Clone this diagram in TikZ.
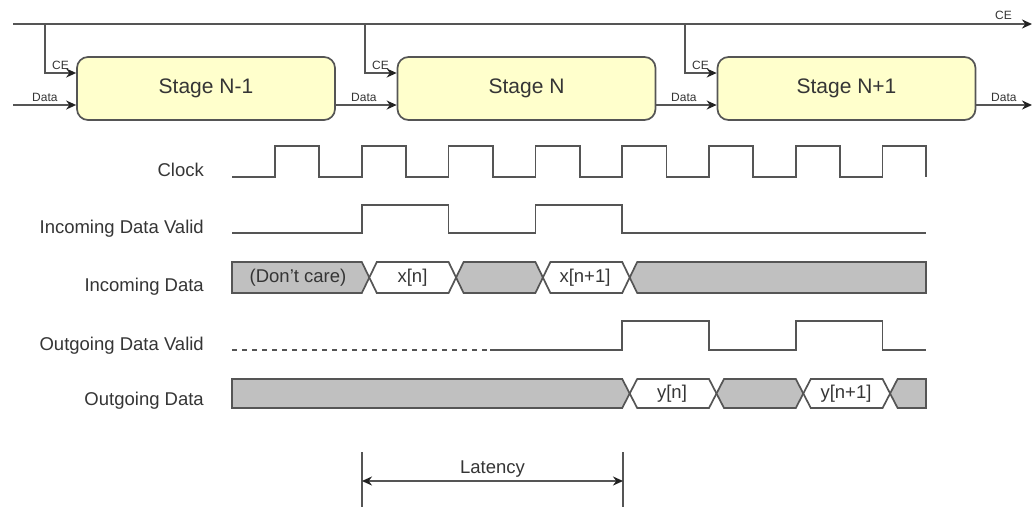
\documentclass[tikz,border=0pt]{standalone}
\usepackage{fontspec}
\setmainfont{Liberation Sans}
\usetikzlibrary{arrows.meta}
\definecolor{ln}{HTML}{555555}
\definecolor{tx}{HTML}{353535}
\definecolor{tip}{HTML}{222222}
\definecolor{boxfill}{HTML}{FFFFCC}
\definecolor{busgray}{HTML}{C0C0C0}
\newcommand\bseg[5]{% style, t1, t2, top, bottom
  \path[#1] ({#2+7.5},{(#4+#5)/2}) -- ({#2+15},#4) -- (#3,#4) -- ({#3+7.5},{(#4+#5)/2}) -- (#3,#5) -- ({#2+15},#5) -- cycle;}
\begin{document}
\begin{tikzpicture}[x=1pt,y=-1pt,
  wire/.style={draw=ln,line width=1.7pt},
  arr/.style={wire,-{Stealth[length=10pt,width=9pt,color=tip]}},
  stagebox/.style={draw=ln,line width=1.7pt,fill=boxfill,rounded corners=11pt,
    minimum width=258pt,minimum height=63pt,font=\fontsize{21}{21}\selectfont,text=tx,inner sep=0pt},
  small/.style={font=\fontsize{12}{12}\selectfont,text=tx,inner sep=0pt,anchor=base west},
  siglabel/.style={font=\fontsize{18.5}{18.5}\selectfont,text=tx,inner sep=0pt,anchor=base east},
  sig/.style={draw=ln,line width=1.7pt,line join=miter},
  busg/.style={draw=ln,line width=1.7pt,fill=busgray,line join=miter},
  busw/.style={draw=ln,line width=1.7pt,fill=white,line join=miter},
  buslabel/.style={font=\fontsize{18.5}{18.5}\selectfont,text=tx,inner sep=0pt},
]
\path[use as bounding box,fill=white] (0,0) rectangle (1033,507);

% ---- block diagram ----
\node[stagebox] (s1) at (206,88.5) {Stage N-1};
\node[stagebox] (s2) at (526.5,88.5) {Stage N};
\node[stagebox] (s3) at (846.5,88.5) {Stage N+1};

\coordinate (ceS) at (13,24);
\coordinate (ceE) at (1032,24);
\coordinate (b1) at (45,24);
\coordinate (b2) at (365,24);
\coordinate (b3) at (685,24);
\draw[arr] (ceS) -- (ceE);
\draw[arr] (b1) |- ([yshift=15.5pt]s1.west);
\draw[arr] (b2) |- ([yshift=15.5pt]s2.west);
\draw[arr] (b3) |- ([yshift=15.5pt]s3.west);

\coordinate (din) at (13,105);
\coordinate (dout) at (1032,105);
\draw[arr] (din) -- ([yshift=-16.5pt]s1.west);
\draw[arr] ([yshift=-16.5pt]s1.east) -- ([yshift=-16.5pt]s2.west);
\draw[arr] ([yshift=-16.5pt]s2.east) -- ([yshift=-16.5pt]s3.west);
\draw[arr] ([yshift=-16.5pt]s3.east) -- (dout);

\node[small] (lce0) at (995,19) {CE};
\node[small] (lce1) at (52,69) {CE};
\node[small] (lce2) at (372,69) {CE};
\node[small] (lce3) at (692,69) {CE};
\node[small] (ld1) at (32,101) {Data};
\node[small] (ld2) at (351,101) {Data};
\node[small] (ld3) at (671,101) {Data};
\node[small] (ld4) at (991,101) {Data};

% ---- signal names ----
\node[siglabel] (nclk) at (204,176) {Clock};
\node[siglabel] (niv) at (204,233) {Incoming Data Valid};
\node[siglabel] (nid) at (204,291) {Incoming Data};
\node[siglabel] (nov) at (204,350) {Outgoing Data Valid};
\node[siglabel] (nod) at (204,405) {Outgoing Data};

% ---- clock ----
\draw[sig] (232,177) -- (275,177) -- (275,146) -- (319.3,146) -- (319.3,177)
  -- (361.8,177) -- (361.8,146) -- (406.1,146) -- (406.1,177)
  -- (448.6,177) -- (448.6,146) -- (492.9,146) -- (492.9,177)
  -- (535.4,177) -- (535.4,146) -- (579.7,146) -- (579.7,177)
  -- (622.2,177) -- (622.2,146) -- (666.5,146) -- (666.5,177)
  -- (709,177) -- (709,146) -- (753.3,146) -- (753.3,177)
  -- (795.8,177) -- (795.8,146) -- (840.1,146) -- (840.1,177)
  -- (882.6,177) -- (882.6,146) -- (926,146) -- (926,177);

% ---- incoming valid ----
\draw[sig] (232,233) -- (361.8,233) -- (361.8,205) -- (448.6,205) -- (448.6,233)
  -- (535.4,233) -- (535.4,205) -- (622.2,205) -- (622.2,233) -- (926,233);

% ---- incoming data ----
\path[busg] (232,262) -- (361.8,262) -- (369.3,277.5) -- (361.8,293) -- (232,293) -- cycle;
\bseg{busw}{361.8}{448.6}{262}{293}
\bseg{busg}{448.6}{535.4}{262}{293}
\bseg{busw}{535.4}{622.2}{262}{293}
\path[busg] (629.7,277.5) -- (637.2,262) -- (926,262) -- (926,293) -- (637.2,293) -- cycle;
\node[buslabel] (tdc) at (298,278) {(Don't care)};
\node[buslabel] (txn) at (412.5,278) {x[n]};
\node[buslabel] (txn1) at (585,278) {x[n+1]};

% ---- outgoing valid ----
\draw[sig,dash pattern=on 5pt off 5pt] (232,350) -- (487,350);
\draw[sig] (490,350) -- (622.2,350) -- (622.2,321) -- (709,321) -- (709,350)
  -- (795.8,350) -- (795.8,321) -- (882.6,321) -- (882.6,350) -- (926,350);

% ---- outgoing data ----
\path[busg] (232,379) -- (622.2,379) -- (629.7,393.5) -- (622.2,408) -- (232,408) -- cycle;
\bseg{busw}{622.2}{709}{379}{408}
\bseg{busg}{709}{795.8}{379}{408}
\bseg{busw}{795.8}{882.6}{379}{408}
\path[busg] (890.1,393.5) -- (897.6,379) -- (926,379) -- (926,408) -- (897.6,408) -- cycle;
\node[buslabel] (tyn) at (672,394) {y[n]};
\node[buslabel] (tyn1) at (846,394) {y[n+1]};

% ---- latency ----
\coordinate (l1t) at (362,452);
\coordinate (l1b) at (362,507);
\coordinate (l2t) at (623,452);
\coordinate (l2b) at (623,507);
\coordinate (la) at (362,481);
\coordinate (lb) at (623,481);
\draw[wire] (l1t) -- (l1b);
\draw[wire] (l2t) -- (l2b);
\draw[wire,{Stealth[length=10pt,width=9pt,color=tip]}-{Stealth[length=10pt,width=9pt,color=tip]}] (la) -- (lb);
\node[buslabel] (tlat) at (492.5,469) {Latency};
\end{tikzpicture}
\end{document}
